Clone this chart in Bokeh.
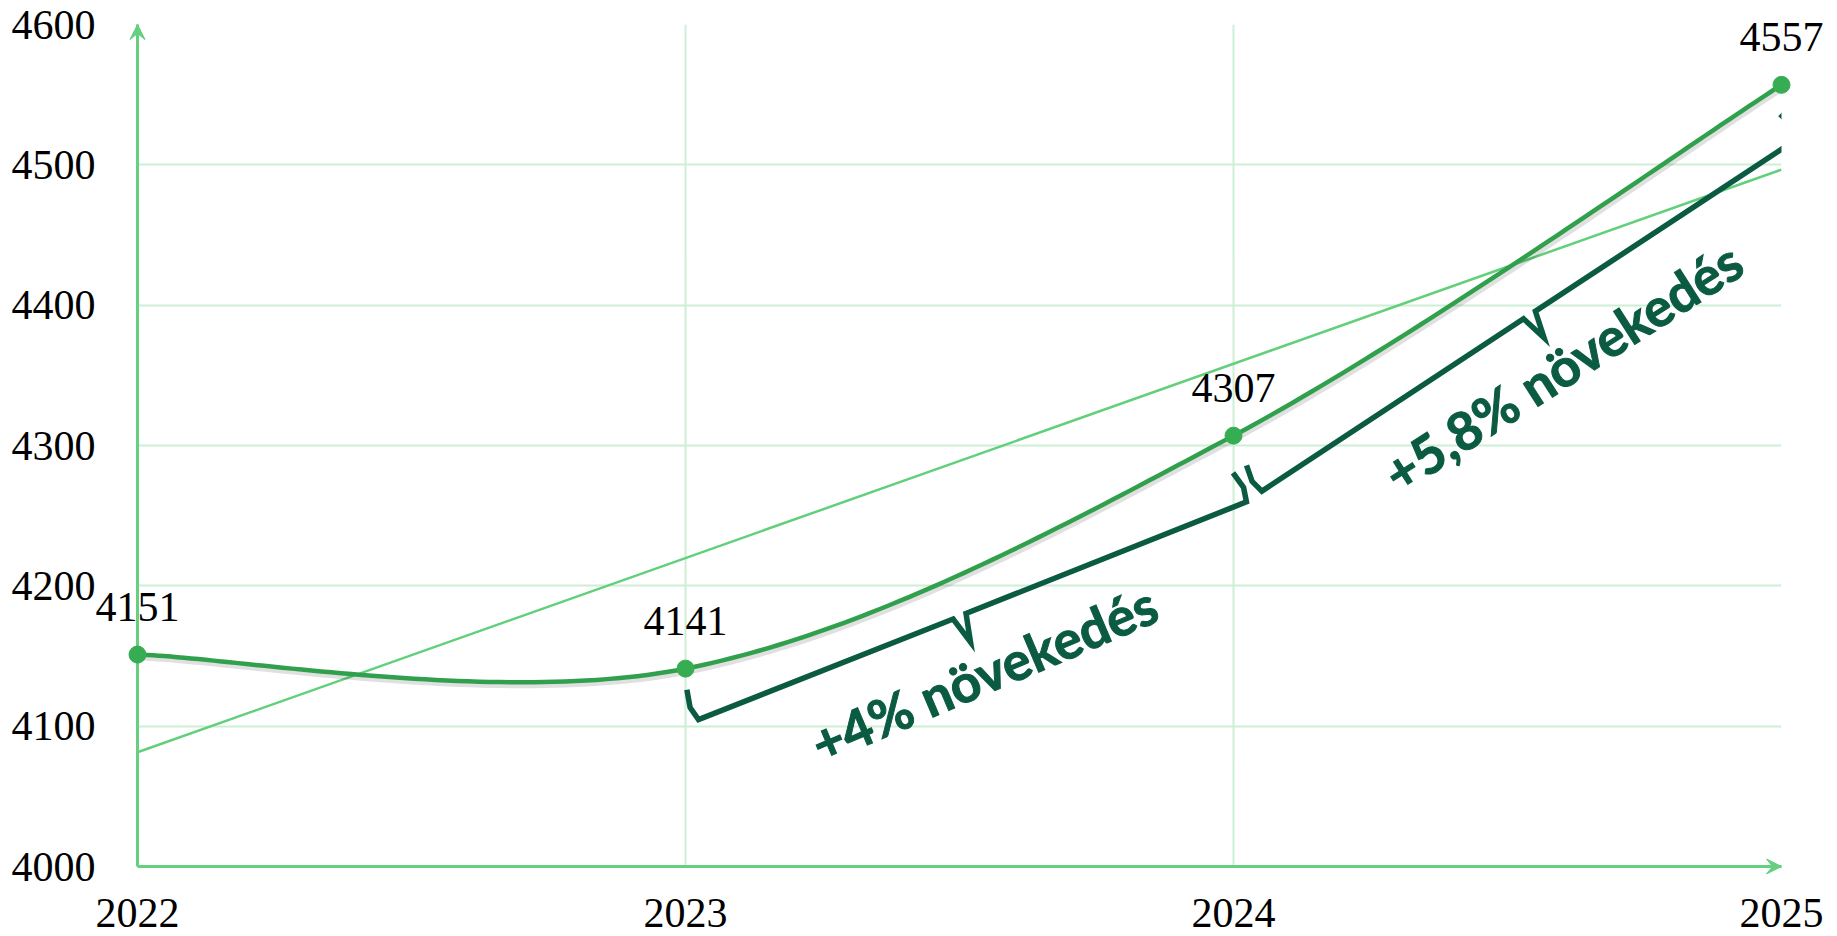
import numpy as np
from bokeh.plotting import figure
from bokeh.models import ColumnDataSource, FixedTicker, LabelSet, Range1d
from bokeh.core.properties import value
from bokeh.embed import file_html
from bokeh.resources import INLINE

# ---------------- data ----------------
years = [2022, 2023, 2024, 2025]
values = [4151, 4141, 4307, 4557]
y_ticks = [4000, 4100, 4200, 4300, 4400, 4500, 4600]
x_ticks = [2022, 2023, 2024, 2025]
x_tick_labels = ["2022", "2023", "2024", "2025"]
growth_labels = ["+4% növekedés", "+5,8% növekedés"]
growth_spans = [(1, 2), (2, 3)]

# ---------------- styles ----------------
X0, X1 = 2022, 2025
Y0, Y1 = 4000, 4600
FW, FH = 1644, 842
KX = FW / (X1 - X0)
KY = FH / (Y1 - Y0)

AXIS_C = "#66d07f"
GRID_C = "#cdefd6"
LINE_C = "#31a04d"
MARK_C = "#36ad53"
TREND_C = "#62cf7b"
BRACE_C = "#0b5a42"
SERIF = "Liberation Serif"

p = figure(frame_width=FW, frame_height=FH,
           x_range=Range1d(X0, X1), y_range=Range1d(Y0, Y1),
           output_backend="svg", toolbar_location=None,
           min_border_left=137, min_border_right=55,
           min_border_top=24, min_border_bottom=69)
p.outline_line_color = None
p.background_fill_color = "white"
p.border_fill_color = "white"

# axes / grid
p.xaxis.visible = False
p.yaxis.ticker = FixedTicker(ticks=y_ticks)
p.yaxis.axis_line_color = None
p.yaxis.major_tick_line_color = None
p.yaxis.minor_tick_line_color = None
p.yaxis.major_label_text_font = SERIF
p.yaxis.major_label_text_font_size = "42px"
p.yaxis.major_label_text_color = "black"
p.yaxis.major_label_standoff = 36
p.ygrid.ticker = FixedTicker(ticks=y_ticks)
p.xgrid.ticker = FixedTicker(ticks=x_ticks)
for g in (p.xgrid, p.ygrid):
    g.grid_line_color = GRID_C
    g.grid_line_width = 2


def to_px(x, y):
    return np.array([(x - X0) * KX, (y - Y0) * KY])


def to_data(pt):
    return X0 + pt[0] / KX, Y0 + pt[1] / KY


# x tick labels (drawn as overlay text so they are not clipped)
p.text(x=x_ticks, y=[Y0 - 46 / KY] * len(x_ticks), text=x_tick_labels,
       text_align="center", text_baseline="alphabetic",
       text_font=value(SERIF), text_font_size="42px", text_color="black",
       level="overlay")

# trend line (least squares through the series)
slope, icpt = np.polyfit(years, values, 1)
tx = np.array([X0, X1], dtype=float)
p.line(tx, slope * tx + icpt, line_color=TREND_C, line_width=2.5)


# smooth curve (Excel-like bezier smoothing)
def smooth(xs, ys, n=60):
    P = np.column_stack([xs, ys]).astype(float)
    out = []
    for i in range(len(P) - 1):
        p0 = P[i - 1] if i > 0 else P[i]
        p3 = P[i + 2] if i + 2 < len(P) else P[i + 1]
        c1 = P[i] + (P[i + 1] - p0) / 6
        c2 = P[i + 1] - (p3 - P[i]) / 6
        t = np.linspace(0, 1, n)[:, None]
        seg = ((1 - t) ** 3) * P[i] + 3 * ((1 - t) ** 2) * t * c1 \
            + 3 * (1 - t) * t ** 2 * c2 + t ** 3 * P[i + 1]
        out.append(seg if i == 0 else seg[1:])
    return np.vstack(out)


curve = smooth(years, values)
# soft shadow
p.line(curve[:, 0] + 1.5 / KX, curve[:, 1] - 3 / KY, line_color="black",
       line_alpha=0.12, line_width=6)
p.line(curve[:, 0], curve[:, 1], line_color=LINE_C, line_width=4.5,
       line_join="round")

# braces + rotated growth texts
brace_params = [
    dict(d0=52, d1=66, pad0=8, pad1=14, hook=32, tip=28, mid=-14),
    dict(d0=62, d1=54, pad0=6, pad1=16, hook=30, tip=27, mid=0),
]

tx_, ty_, tt_, ta_ = [], [], [], []
for (i, j), lab, bp in zip(growth_spans, growth_labels, brace_params):
    A = to_px(years[i], values[i])
    B = to_px(years[j], values[j])
    v = B - A
    L = float(np.hypot(*v))
    u = v / L
    nrm = np.array([u[1], -u[0]])

    def at(s, d):
        return A + u * s + nrm * d

    um = (-bp["pad0"] + L - bp["pad1"]) / 2 + bp["mid"]
    dm = (bp["d0"] + bp["d1"]) / 2
    h = bp["hook"]
    pts = [at(-bp["pad0"] + 1, bp["d0"] - h),
           at(-bp["pad0"] - 3, bp["d0"] - h * 0.45),
           at(-bp["pad0"], bp["d0"]),
           at(um - 7, dm),
           at(um, dm + bp["tip"]),
           at(um + 7, dm),
           at(L - bp["pad1"], bp["d1"]),
           at(L - bp["pad1"] + 3, bp["d1"] - h * 0.45),
           at(L - bp["pad1"] - 1, bp["d1"] - h)]
    dx, dy = zip(*[to_data(q) for q in pts])
    p.line(list(dx), list(dy), line_color=BRACE_C, line_width=5.5,
           line_join="miter")
    c = to_data(at(um, dm + bp["tip"] + 34))
    tx_.append(c[0]); ty_.append(c[1]); tt_.append(lab)
    ta_.append(float(np.arctan2(u[1], u[0])))

g_src = ColumnDataSource(dict(x=tx_, y=ty_, t=tt_, a=ta_))
p.add_layout(LabelSet(x="x", y="y", text="t", angle="a", source=g_src,
                      text_align="center", text_baseline="middle",
                      text_font=value("Lato"), text_font_style="bold",
                      text_font_size="53px", text_color=BRACE_C,
                      text_outline_color=BRACE_C, level="overlay"))

# axis lines with arrow heads (overlay so heads are not clipped)
p.line([X0, X0], [Y0, Y1], line_color=AXIS_C, line_width=3, level="overlay")
p.line([X0, X1], [Y0, Y0], line_color=AXIS_C, line_width=3, level="overlay")


def vee(tip_x, tip_y, dirx, diry, length=15, half=7.5, notch=9):
    T = to_px(tip_x, tip_y)
    d = np.array([dirx, diry], dtype=float)
    d = d / np.hypot(*d)
    n = np.array([-d[1], d[0]])
    q = [T, T - d * length + n * half, T - d * notch, T - d * length - n * half]
    xs, ys = zip(*[to_data(k) for k in q])
    return list(xs), list(ys)


hx1, hy1 = vee(X0, Y1, 0, 1)
hx2, hy2 = vee(X1, Y0, 1, 0)
p.patches([hx1, hx2], [hy1, hy2], fill_color=AXIS_C, line_color=AXIS_C,
          line_width=1, level="overlay")

# markers
p.scatter(years, values, size=17, fill_color=MARK_C, line_color=MARK_C,
          level="overlay")

# data labels
p.text(x=years, y=[v + 48 / KY for v in values], text=[str(v) for v in values],
       text_align="center", text_baseline="alphabetic",
       text_font=value(SERIF), text_font_size="42px", text_color="black",
       level="overlay")

open("out.html", "w").write(file_html(p, INLINE))
